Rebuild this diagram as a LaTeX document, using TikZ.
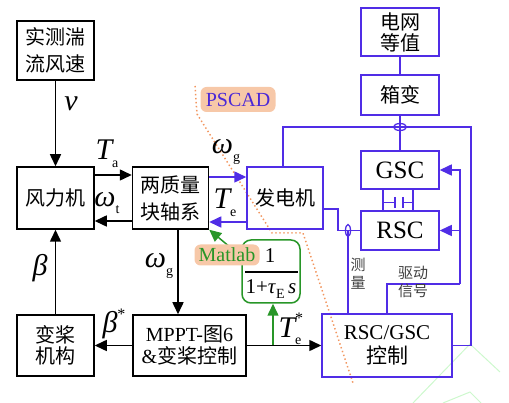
\documentclass[tikz,border=0pt]{standalone}
\usepackage{fontspec}
\setmainfont{Liberation Serif}
\newfontfamily\cjk{Noto Sans CJK SC}
\usetikzlibrary{arrows.meta}
\definecolor{bl}{RGB}{80,45,230}
\definecolor{pscadtxt}{RGB}{75,40,215}
\definecolor{orl}{RGB}{242,150,95}
\definecolor{orf}{RGB}{247,200,168}
\definecolor{gr}{RGB}{40,150,40}
\definecolor{wm}{RGB}{205,248,205}
\newcommand\dn[1]{\raisebox{-0.55ex}{\upshape\fontsize{14}{14}\selectfont #1}}
\newcommand\upr[1]{\raisebox{1.0ex}{\upshape\fontsize{16}{16}\selectfont #1}}
\begin{document}
\begin{tikzpicture}[x=1pt,y=-1pt,
  kbox/.style={draw=black,line width=1.5pt,inner sep=0pt,align=center,font=\cjk\fontsize{20}{27}\selectfont},
  ubox/.style={draw=bl,line width=1.5pt,inner sep=0pt,align=center,font=\cjk\fontsize{20}{27}\selectfont},
  arr/.style={line width=1.5pt,-{Triangle[length=12pt,width=11pt]}},
  barr/.style={line width=1.5pt,bl,-{Triangle[length=12pt,width=11pt]}},
  bline/.style={line width=1.5pt,bl},
  lab/.style={inner sep=0pt,font=\fontsize{30}{30}\selectfont\itshape},
  tag/.style={fill=orf,rounded corners=6pt,inner sep=0pt},
  small/.style={inner sep=0pt,align=center,text=black!75,font=\cjk\fontsize{15}{18}\selectfont}
]
\useasboundingbox (0,0) rectangle (509,403);
% watermark
\draw[wm,line width=1pt] (413,403) -- (470,344) -- (500,372);
\draw[wm,line width=1pt] (443,403) -- (470,392) -- (481,403);
% dotted boundary
\draw[orl,line width=1.5pt,dash pattern=on 1.4pt off 2.6pt] (195,86) -- (197,114) -- (272,233) -- (303,233) -- (353,383);
% boxes
\node[kbox,minimum width=77pt,minimum height=59pt] (speed) at (55.5,50.5) {实测湍\\流风速};
\node[kbox,minimum width=77pt,minimum height=62pt] (turb) at (55.5,198) {风力机};
\node[kbox,minimum width=76pt,minimum height=62pt] (shaft) at (170.5,198) {两质量\\块轴系};
\node[ubox,minimum width=76pt,minimum height=62pt] (gen) at (285,198) {发电机};
\node[ubox,minimum width=78pt,minimum height=48pt,font=\cjk\fontsize{20}{21}\selectfont] (grid) at (400,32) {电网\\等值};
\node[ubox,minimum width=78pt,minimum height=40pt] (trafo) at (400,95) {箱变};
\node[ubox,minimum width=78pt,minimum height=38pt,font=\fontsize{25}{25}\selectfont] (gsc) at (400,170) {GSC};
\node[ubox,minimum width=78pt,minimum height=39pt,font=\fontsize{25}{25}\selectfont] (rsc) at (400,230.5) {RSC};
\node[kbox,minimum width=77pt,minimum height=61pt,font=\cjk\fontsize{20}{21}\selectfont] (pitch) at (55.5,345.5) {变桨\\机构};
\node[kbox,minimum width=113pt,minimum height=61pt,font=\fontsize{20}{22}\selectfont] (mppt) at (189.5,345.5) {MPPT-{\cjk 图}6\\\&{\cjk 变桨控制}};
\node[ubox,minimum width=130pt,minimum height=63pt,font=\fontsize{21}{24}\selectfont] (ctrl) at (387,345.5) {RSC/GSC\\{\cjk 控制}};
\node[draw=gr,line width=1.5pt,rounded corners=9pt,minimum width=58pt,minimum height=63pt,inner sep=0pt] (tf) at (271,271.5) {};
\node[inner sep=0pt,font=\fontsize{21}{21}\selectfont] (num) at (270,256) {1};
\node[inner sep=0pt,font=\fontsize{21}{21}\selectfont] (den) at (271,289) {1+\textit{τ}\dn{E}\,\textit{s}};
\draw[line width=1.2pt] (245,272) -- (298,272);
% tags
\node[tag,minimum width=75pt,minimum height=25pt,text=pscadtxt,font=\fontsize{20}{20}\selectfont] (pscad) at (238,99.5) {PSCAD};
% black connectors
\draw[arr] (speed.south) -- (turb.north);
\draw[arr] ([yshift=23pt]turb.east) -- ([yshift=23pt]shaft.west);
\draw[arr] ([yshift=-23pt]shaft.west) -- ([yshift=-23pt]turb.east);
\draw[arr] (pitch.north) -- (turb.south);
\draw[arr] ([xshift=7.5pt]shaft.south) -- ([xshift=7.5pt]shaft.south |- mppt.north);
\draw[arr] (mppt.west) -- (pitch.east);
\draw[arr] (mppt.east) -- (ctrl.west);
% green
\coordinate (tap) at (tf.south |- mppt.east);
\draw[gr,line width=1.5pt,-{Triangle[length=12pt,width=11pt]}] ([xshift=2pt]tap) -- ([xshift=2pt]tf.south);
\draw[gr,line width=1.5pt,-{Triangle[length=12pt,width=11pt]}] ([yshift=15pt]tf.west) -- (shaft.south east);
\node[tag,minimum width=65pt,minimum height=21pt,text=gr,font=\fontsize{20}{20}\selectfont] (matlab) at (227,255) {Matlab};
% blue connectors
\draw[barr] ([yshift=21pt]shaft.east) -- ([yshift=21pt]gen.west);
\draw[barr] ([yshift=-24pt]gen.west) -- ([yshift=-24pt]shaft.east);
\coordinate (busR) at (471,127);
\draw[bline] ([xshift=-2pt]gen.north) |- (busR) |- (ctrl.east);
\draw[bline] (grid.south) -- (trafo.north);
\draw[bline] (trafo.south) -- (gsc.north);
\draw[bl,line width=1.3pt] (400,127) ellipse [x radius=6.5pt, y radius=3.5pt];
\coordinate (ct) at (348,230.5);
\draw[bline] ([yshift=-11pt]gen.east) -- ++(14,0) |- (rsc.west);
\draw[bline] (ct) -- (ct |- ctrl.north);
\draw[bl,line width=1.3pt] (ct) ellipse [x radius=2.5pt, y radius=6pt];
% dc link
\draw[bline] ([xshift=-17pt]gsc.south) -- ([xshift=-17pt]rsc.north);
\draw[bline] ([xshift=13pt]gsc.south) -- ([xshift=13pt]rsc.north);
\draw[bline] (383,202.5) -- (395,202.5) (395,197) -- (395,208) (403,197) -- (403,208) (403,202.5) -- (413,202.5);
% drive signals
\coordinate (drv) at (460,284);
\draw[bline] (ctrl.north) |- (drv);
\draw[barr] (drv) |- (gsc.east);
\draw[barr] (drv |- rsc.east) -- (rsc.east);
% labels
\node[lab] (lv) at (71,104) {v};
\node[lab] (lta) at (107,154) {T\dn{a}};
\node[lab] (lwt) at (107,203) {ω\dn{t}};
\node[lab] (lb) at (40,268) {β};
\node[lab] (lbs) at (114,324) {β\upr{*}};
\node[lab] (lwg) at (159,266) {ω\dn{g}};
\node[lab] (lwg2) at (226,152) {ω\dn{g}};
\node[lab] (lte) at (225,203) {T\dn{e}};
\node[lab] (ltes) at (290,329) {T\rlap{\upr{*}}\dn{e}};
\node[small] (meas) at (358,274) {测\\量};
\node[small] (drvlab) at (413,282) {驱动\\信号};
\end{tikzpicture}
\end{document}
